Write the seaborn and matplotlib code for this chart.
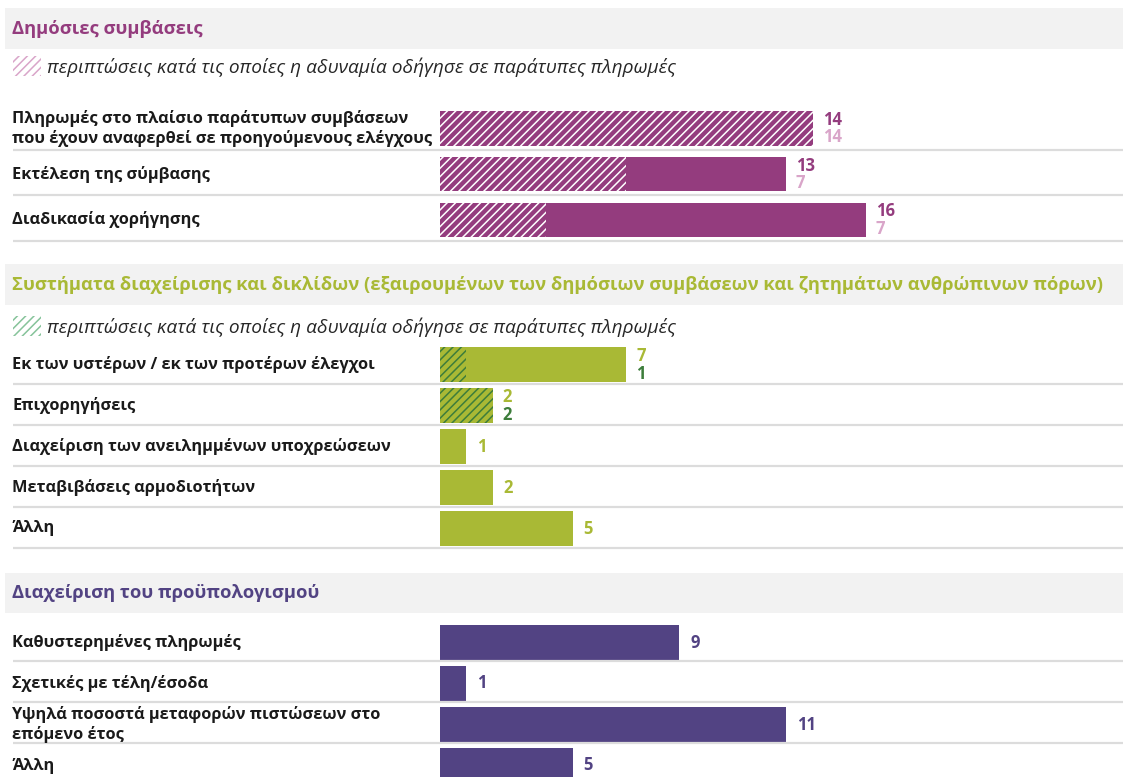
import matplotlib
matplotlib.use("Agg")
import matplotlib.pyplot as plt
from matplotlib import transforms
from matplotlib.patches import Rectangle
import seaborn as sns
import pandas as pd

# ---------------- data ----------------
legend_text = "περιπτώσεις κατά τις οποίες η αδυναμία οδήγησε σε παράτυπες πληρωμές"

proc_title = "Δημόσιες συμβάσεις"
proc_labels = [
    "Πληρωμές στο πλαίσιο παράτυπων συμβάσεων\nπου έχουν αναφερθεί σε προηγούμενους ελέγχους",
    "Εκτέλεση της σύμβασης",
    "Διαδικασία χορήγησης",
]
proc_totals = [14, 13, 16]
proc_irregular = [14, 7, 7]
proc_irregular_bar = [14, 7, 4]   # hatched length as drawn in the reference

sys_title = ("Συστήματα διαχείρισης και δικλίδων (εξαιρουμένων των δημόσιων "
             "συμβάσεων και ζητημάτων ανθρώπινων πόρων)")
sys_labels = [
    "Εκ των υστέρων / εκ των προτέρων έλεγχοι",
    "Επιχορηγήσεις",
    "Διαχείριση των ανειλημμένων υποχρεώσεων",
    "Μεταβιβάσεις αρμοδιοτήτων",
    "Άλλη",
]
sys_totals = [7, 2, 1, 2, 5]
sys_irregular = [1, 2, None, None, None]
sys_irregular_bar = [1, 2, None, None, None]

budget_title = "Διαχείριση του προϋπολογισμού"
budget_labels = [
    "Καθυστερημένες πληρωμές",
    "Σχετικές με τέλη/έσοδα",
    "Υψηλά ποσοστά μεταφορών πιστώσεων στο\nεπόμενο έτος",
    "Άλλη",
]
budget_totals = [9, 1, 11, 5]
budget_bar = [9, 1, 13, 5]        # bar length as drawn in the reference

# ---------------- style ----------------
sns.set_style("white")
plt.rcParams["font.family"] = ["Open Sans", "DejaVu Sans"]
plt.rcParams["hatch.linewidth"] = 1.1

W, H = 1123, 777
X0 = 439.5      # px where bars start
PX = 26.65      # px per unit

PURPLE = "#943c7e"
PINK = "#d9a5c9"
GREEN = "#a9b935"
DKGREEN = "#3d7d3b"
LTGREEN = "#86c39a"
VIOLET = "#524383"
BAND = "#f2f2f2"
SEP = "#dcdcdc"
TXT = "#1a1a1a"

TITLE_FS = 13.2
LABEL_FS = 11.8
VALUE_FS = 12
LEGEND_FS = 13.8

fig = plt.figure(figsize=(W / 100, H / 100), dpi=100)


def fx(x):
    return x / W


def fy(y):
    return 1 - y / H


def header(title, color, top, bot):
    fig.add_artist(Rectangle((fx(5), fy(bot)), 1 - fx(5), (bot - top) / H,
                             transform=fig.transFigure, facecolor=BAND,
                             edgecolor="none", zorder=0))
    fig.text(fx(12), fy((top + bot) / 2), title, color=color, fontsize=TITLE_FS,
             fontweight="bold", ha="left", va="center")


def legend(yc, edge):
    fig.add_artist(Rectangle((fx(13), fy(yc + 10)), 28 / W, 20 / H,
                             transform=fig.transFigure, facecolor="white",
                             edgecolor=edge, hatch="////", linewidth=0))
    fig.text(fx(47), fy(yc + 1), legend_text, color="#262626", fontsize=LEGEND_FS,
             fontstyle="italic", fontweight="normal", ha="left", va="center")


def section(labels, bars, top_vals, bot_vals, hatch_bars, c0, spacing,
            bar_h, sep_off, color, hatch_face, hatch_edge, top_color, bot_color):
    n = len(labels)
    top = c0 - spacing / 2
    height = n * spacing
    ax = fig.add_axes([fx(X0), fy(top + height), 1 - fx(X0), height / H])
    df = pd.DataFrame({"label": labels, "value": bars})
    sns.barplot(data=df, x="value", y="label", order=labels, orient="h",
                color=color, saturation=1, width=bar_h / spacing,
                errorbar=None, linewidth=0, ax=ax)
    if hatch_bars is not None:
        dfh = pd.DataFrame({"label": labels, "value": hatch_bars}).dropna()
        before = len(ax.patches)
        sns.barplot(data=dfh, x="value", y="label", order=labels, orient="h",
                    color=hatch_face, saturation=1, width=bar_h / spacing,
                    errorbar=None, linewidth=0, ax=ax)
        for p in ax.patches[before:]:
            p.set_facecolor(hatch_face)
            p.set_edgecolor(hatch_edge)
            p.set_hatch("////")
            p.set_linewidth(0)
    ax.set_xlim(0, (W - X0) / PX)
    ax.set_ylim(n - 0.5, -0.5)
    ax.axis("off")

    blend = transforms.blended_transform_factory(fig.transFigure, ax.transData)
    up = transforms.offset_copy(ax.transData, fig=fig, x=10, y=8.5, units="dots")
    down = transforms.offset_copy(ax.transData, fig=fig, x=10, y=-9, units="dots")
    mid = transforms.offset_copy(ax.transData, fig=fig, x=11, y=0, units="dots")
    for i, lab in enumerate(labels):
        ax.text(fx(12), i, lab, transform=blend, ha="left", va="center",
                fontsize=LABEL_FS, fontweight="bold", color=TXT, linespacing=1.25)
        ax.plot([fx(13), 1], [i + sep_off, i + sep_off], transform=blend,
                color=SEP, lw=1.6, clip_on=False, solid_capstyle="butt")
        b = bars[i]
        if bot_vals is not None and bot_vals[i] is not None:
            ax.text(b, i, str(top_vals[i]), transform=up, ha="left", va="center",
                    fontsize=VALUE_FS, fontweight="bold", color=top_color)
            ax.text(b, i, str(bot_vals[i]), transform=down, ha="left", va="center",
                    fontsize=VALUE_FS, fontweight="bold", color=bot_color)
        else:
            ax.text(b, i, str(top_vals[i]), transform=mid, ha="left", va="center",
                    fontsize=VALUE_FS, fontweight="bold", color=top_color)
    return ax


# Section 1
header(proc_title, PURPLE, 8, 49)
legend(66, PINK)
section(proc_labels, proc_totals, proc_totals, proc_irregular, proc_irregular_bar,
        128.5, 45.75, 34.5, 0.46, PURPLE, PURPLE, "white", PURPLE, PINK)

# Section 2
header(sys_title, GREEN, 264, 305)
legend(326, LTGREEN)
section(sys_labels, sys_totals, sys_totals, sys_irregular, sys_irregular_bar,
        364.5, 41, 35, 0.47, GREEN, GREEN, DKGREEN, GREEN, DKGREEN)

# Section 3
header(budget_title, VIOLET, 573, 613)
section(budget_labels, budget_bar, budget_totals, None, None,
        642.5, 41, 35, 0.45, VIOLET, VIOLET, VIOLET, VIOLET, VIOLET)

fig.savefig("out.png", dpi=100)
